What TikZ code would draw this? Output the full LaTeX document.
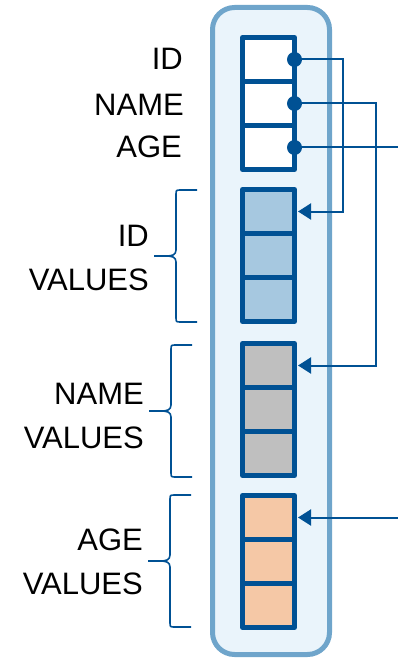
\documentclass[tikz,border=0pt]{standalone}
\usepackage{fontspec}
\setmainfont{Liberation Sans}
\usepackage{tikz}
\usetikzlibrary{positioning, arrows.meta}

\definecolor{darkblue}{HTML}{005194}
\definecolor{boxline}{HTML}{6FA5CB}
\definecolor{boxfill}{HTML}{EAF4FB}
\definecolor{idfill}{HTML}{A6C8E0}
\definecolor{namefill}{HTML}{BFBFBF}
\definecolor{agefill}{HTML}{F5C8A6}

% curly brace: right end x, top y, bottom y
\newcommand{\valbrace}[3]{%
    \pgfmathsetmacro{\bx}{#1-21}%
    \pgfmathsetmacro{\tx}{#1-43}%
    \pgfmathsetmacro{\my}{(#2+#3)/2}%
    \draw[bracel] (#1,#2) -- (\bx+5,#2) .. controls (\bx,#2) .. (\bx,#2+5)
        -- (\bx,\my-6) .. controls (\bx,\my-1) and (\bx-4,\my) .. (\bx-10,\my) -- (\tx,\my);
    \draw[bracel] (#1,#3) -- (\bx+5,#3) .. controls (\bx,#3) .. (\bx,#3-5)
        -- (\bx,\my+6) .. controls (\bx,\my+1) and (\bx-4,\my) .. (\bx-10,\my);
}

\begin{document}
\begin{tikzpicture}[x=1pt, y=-1pt,
    cell/.style={draw=darkblue, line width=5pt, minimum width=52pt, minimum height=44pt,
        inner sep=0pt, outer sep=0pt, line join=round},
    lbl/.style={inner sep=0pt, align=right, font=\fontsize{31}{44}\selectfont},
    link/.style={draw=darkblue, line width=2pt},
    linkarrow/.style={link, -{Triangle[length=13pt, width=16pt]}, shorten >=3.5pt},
    bracel/.style={draw=darkblue, line width=1.6pt}]
    \useasboundingbox (0,0) rectangle (398,660);

    % outer store
    \node[draw=boxline, fill=boxfill, line width=5pt, rounded corners=22pt,
        minimum width=117pt, minimum height=647pt] (store) at (271,331) {};

    % header cells
    \node[cell, fill=white] (h1) at (268.5,59.5) {};
    \node[cell, fill=white, below=0pt of h1] (h2) {};
    \node[cell, fill=white, below=0pt of h2] (h3) {};

    % ID values
    \node[cell, fill=idfill] (i1) at (268.5,211.5) {};
    \node[cell, fill=idfill, below=0pt of i1] (i2) {};
    \node[cell, fill=idfill, below=0pt of i2] (i3) {};

    % NAME values
    \node[cell, fill=namefill] (n1) at (268.5,365.5) {};
    \node[cell, fill=namefill, below=0pt of n1] (n2) {};
    \node[cell, fill=namefill, below=0pt of n2] (n3) {};

    % AGE values
    \node[cell, fill=agefill] (a1) at (268.5,517.5) {};
    \node[cell, fill=agefill, below=0pt of a1] (a2) {};
    \node[cell, fill=agefill, below=0pt of a2] (a3) {};

    % pointers
    \coordinate (idbus) at (343,0);
    \coordinate (namebus) at (376,0);
    \coordinate (edge) at (398,0);
    \draw[linkarrow] (h1.east) -- (h1.east -| idbus) |- (i1.east);
    \draw[linkarrow] (h2.east) -- (h2.east -| namebus) |- (n1.east);
    \draw[link] (h3.east) -- (h3.east -| edge);
    \draw[linkarrow] (a1.east -| edge) -- (a1.east);
    \fill[darkblue] (h1.east) circle (7.5pt);
    \fill[darkblue] (h2.east) circle (7.5pt);
    \fill[darkblue] (h3.east) circle (7.5pt);

    % labels
    \node[lbl, anchor=east] (lid) at (183,59) {ID};
    \node[lbl, anchor=east] (lname) at (184,105) {NAME};
    \node[lbl, anchor=east] (lage) at (182,147) {AGE};
    \node[lbl, anchor=east] (lidv) at (149,257.5) {ID\\VALUES};
    \node[lbl, anchor=east] (lnamev) at (144,415.5) {NAME\\VALUES};
    \node[lbl, anchor=east] (lagev) at (143,562) {AGE\\VALUES};

    % braces
    \valbrace{197}{190}{322}
    \valbrace{192}{345}{477}
    \valbrace{191}{495}{627}
\end{tikzpicture}
\end{document}
